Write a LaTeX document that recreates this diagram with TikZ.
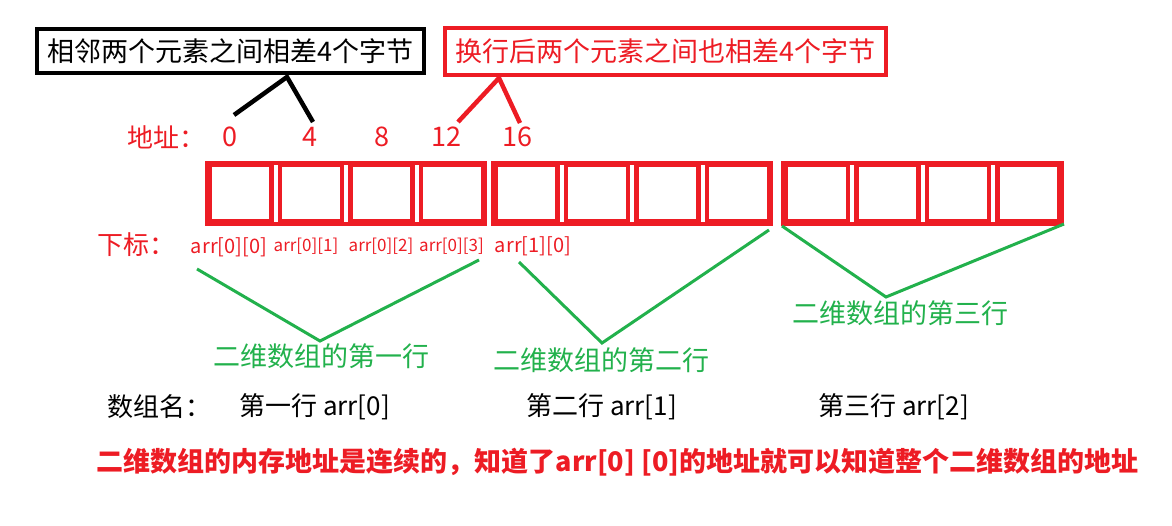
\documentclass[tikz,border=0pt]{standalone}
\usepackage{fontspec}
\setmainfont{Noto Sans CJK SC}
\definecolor{paintred}{HTML}{ED1C24}
\definecolor{paintgreen}{HTML}{22B14C}
\tikzset{
  cell/.style={rectangle, draw=paintred, line width=4.5pt, minimum width=62pt, minimum height=56.5pt, inner sep=0},
  frame/.style={draw=paintred, line width=4.5pt},
  tipbox/.style={rectangle, line width=4pt, inner sep=0, font=\fontsize{27}{32}\selectfont},
  addr/.style={text=paintred, inner sep=0, font=\fontsize{27}{32}\selectfont},
  idx/.style={text=paintred, inner sep=0, font=\fontsize{20}{24}\selectfont},
  idxs/.style={text=paintred, inner sep=0, font=\fontsize{17}{20}\selectfont},
  rowlbl/.style={text=paintgreen, inner sep=0, font=\fontsize{27}{32}\selectfont},
  namelbl/.style={text=black, inner sep=0, font=\fontsize{26}{30}\selectfont},
  wedge/.style={line width=4.5pt},
  gwedge/.style={draw=paintgreen, line width=3pt},
}
\begin{document}
\begin{tikzpicture}[x=1pt, y=-1pt]
\useasboundingbox (0,0) rectangle (1172,526);

\node[tipbox, draw=black, minimum width=387pt, minimum height=44pt] (tipsame) at (230.5,51) {相邻两个元素之间相差4个字节};
\node[tipbox, draw=paintred, text=paintred, minimum width=441pt, minimum height=47pt] (tipnext) at (665.5,51.5) {换行后两个元素之间也相差4个字节};

\node[addr, font=\fontsize{26}{30}\selectfont] (addrlbl) at (166,137) {地址：};
\foreach \n/\x in {0/230, 4/310, 8/382, 12/446, 16/517}
  \node[addr] (a\n) at (\x,137) {\n};

% memory cells
\foreach \g/\x in {1/207, 2/493, 3/783.5} {
  \foreach \i in {1,...,4}
    \node[cell] (c\g-\i) at ({\x+33.25+70.5*(\i-1)},193.5) {};
  \draw[frame] (c\g-1.north west) rectangle (c\g-4.south east);
}

\node[idx, font=\fontsize{26}{30}\selectfont] (idxlbl) at (136.5,245) {下标：};
\node[idx]  (i00) at (229,247) {arr[0][0]};
\node[idxs] (i01) at (306,246) {arr[0][1]};
\node[idxs] (i02) at (381,246) {arr[0][2]};
\node[idxs] (i03) at (451.5,246) {arr[0][3]};
\node[idx]  (i10) at (533,246) {arr[1][0]};

\coordinate (s0) at (234,115);
\coordinate (stop) at (287,77);
\coordinate (s4) at (313,122);
\coordinate (n12) at (458,122);
\coordinate (ntop) at (499,78);
\coordinate (n16) at (520,123);
\draw[wedge, black] (s0) -- (stop) -- (s4);
\draw[wedge, paintred] (n12) -- (ntop) -- (n16);

\coordinate (r1l) at (197,269);
\coordinate (r1m) at (320,341);
\coordinate (r1r) at (479,260);
\coordinate (r2l) at (519,262);
\coordinate (r2m) at (602,343);
\coordinate (r2r) at (769,230);
\coordinate (r3l) at (782,226);
\coordinate (r3m) at (886,297);
\coordinate (r3r) at (1064,224);
\draw[gwedge] (r1l) -- (r1m) -- (r1r);
\draw[gwedge] (r2l) -- (r2m) -- (r2r);
\draw[gwedge] (r3l) -- (r3m) -- (r3r);

\node[rowlbl] (row1) at (321,356) {二维数组的第一行};
\node[rowlbl] (row2) at (601,360) {二维数组的第二行};
\node[rowlbl] (row3) at (900.5,313) {二维数组的第三行};

\node[namelbl] (namelbl) at (159,407) {数组名：};
\node[namelbl] (name0) at (314.5,407) {第一行 arr[0]};
\node[namelbl] (name1) at (601.5,407) {第二行 arr[1]};
\node[namelbl] (name2) at (893.5,407) {第三行 arr[2]};

\node[text=paintred, inner sep=0, font=\bfseries\fontsize{27}{32}\selectfont] (summary) at (617.5,462) {二维数组的内存地址是连续的，知道了arr[0] [0]的地址就可以知道整个二维数组的地址};
\end{tikzpicture}
\end{document}
